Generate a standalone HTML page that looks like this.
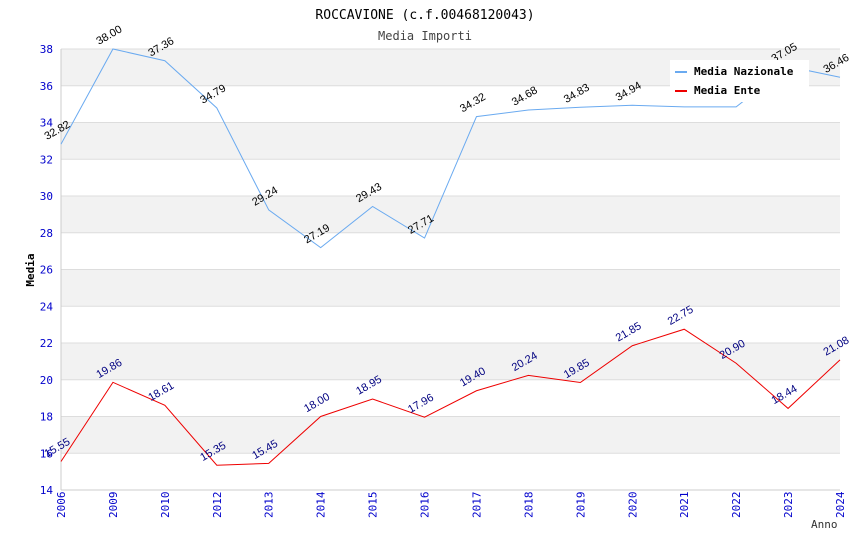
<!DOCTYPE html>
<html><head><meta charset="utf-8"><style>
body{margin:0;background:#fff}
svg text{font-family:"DejaVu Sans Mono","Liberation Mono",monospace}
svg text.vl{font-family:"Liberation Sans",Arial,sans-serif}
</style></head><body>
<svg id="c" width="850" height="550" xmlns="http://www.w3.org/2000/svg">
<text x="425" y="19" text-anchor="middle" font-size="13">ROCCAVIONE (c.f.00468120043)</text>
<text x="425" y="40" text-anchor="middle" font-size="12" fill="#444">Media Importi</text>
<g id="bands"></g><g id="grid"></g><g id="axes"></g><g id="series"></g><g id="labels"></g>
<g>
<rect x="670" y="60" width="139" height="42" fill="#fff"/>
<line x1="675" y1="72" x2="687" y2="72" stroke="#6aaaf0" stroke-width="2"/>
<text x="694" y="75" font-size="11" font-weight="bold">Media Nazionale</text>
<line x1="675" y1="91" x2="687" y2="91" stroke="#e00" stroke-width="2"/>
<text x="694" y="94" font-size="11" font-weight="bold">Media Ente</text>
</g>
<text x="34" y="270" font-size="11" font-weight="bold" transform="rotate(-90 34 270)" text-anchor="middle">Media</text>
<text x="811" y="528" font-size="11" fill="#333">Anno</text>
</svg>
<script>
const years=["2006","2009","2010","2012","2013","2014","2015","2016","2017","2018","2019","2020","2021","2022","2023","2024"];
const nazionale=[32.82,38.00,37.36,34.79,29.24,27.19,29.43,27.71,34.32,34.68,34.83,34.94,34.85,34.85,37.05,36.46];
const nazLabels=["32.82","38.00","37.36","34.79","29.24","27.19","29.43","27.71","34.32","34.68","34.83","34.94","","","37.05","36.46"];
const ente=[15.55,19.86,18.61,15.35,15.45,18.00,18.95,17.96,19.40,20.24,19.85,21.85,22.75,20.90,18.44,21.08];
const yTicks=[14,16,18,20,22,24,26,28,30,32,34,36,38];
const NS="http://www.w3.org/2000/svg";
const L=61,R=840,T=49,B=490,yMin=14,yMax=38;
const x=i=>L+i*(R-L)/(years.length-1);
const y=v=>B-(v-yMin)/(yMax-yMin)*(B-T);
function mk(p,tag,a){const e=document.createElementNS(NS,tag);for(const k in a)e.setAttribute(k,a[k]);document.getElementById(p).appendChild(e);return e;}
for(let i=0;i<yTicks.length-1;i++){
 if(i%2===1){const r=mk('bands','rect',{x:L,y:y(yTicks[i+1]),width:R-L,height:y(yTicks[i])-y(yTicks[i+1]),fill:'#f2f2f2'});
 
 }
}
yTicks.forEach(v=>{
 const g=mk('grid','line',{x1:L,x2:R,y1:y(v),y2:y(v),stroke:'#ddd'});
 
 
 const t=mk('axes','text',{x:L-8,y:y(v)+4,'text-anchor':'end','font-size':11,fill:'#00c'});t.textContent=v;
 
 
});
const ax=mk('axes','line',{x1:L,x2:L,y1:T,y2:B,stroke:'#ccc'});


const bx=mk('axes','line',{x1:L,x2:R,y1:B,y2:B,stroke:'#ccc'});


years.forEach((yr,i)=>{
 const t=mk('axes','text',{x:x(i)+4,y:B+28,'font-size':11,fill:'#00c',transform:`rotate(-90 ${x(i)+4} ${B+28})`});t.textContent=yr;
 
 
});
function series(data,color,name,labs,lc){
 const p=mk('series','polyline',{points:data.map((v,i)=>x(i)+','+y(v)).join(' '),fill:'none',stroke:color,'stroke-width':1});
 
 
 data.forEach((v,i)=>{
  const s=labs?labs[i]:v.toFixed(2);if(!s)return;
  const tx=x(i)-14,ty=y(v)-4;
  const t=mk('labels','text',{class:'vl',x:tx,y:ty,'font-size':11,fill:lc,transform:`rotate(-30 ${tx} ${ty})`});t.textContent=s;
  
  
 });
}
series(nazionale,'#6aaaf0','line-media-nazionale',nazLabels,'#000');
series(ente,'#e00','line-media-ente',null,'#000080');
</script>
</body></html>
